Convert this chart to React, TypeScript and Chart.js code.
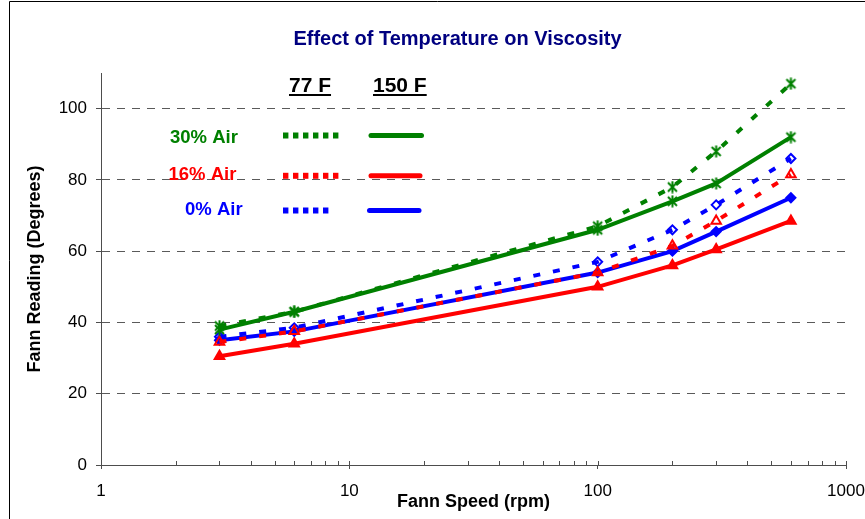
import React, { useEffect, useRef } from 'react';
import { Chart, registerables } from 'chart.js';

Chart.register(...registerables);

// ---- data ----
const RPM = [3, 6, 100, 200, 300, 600];
const AIR30_77F = [39, 43, 67, 78, 88, 107];
const AIR30_150F = [38, 43, 66, 74, 79, 92];
const AIR16_77F = [34.5, 37.5, 54, 61.5, 68.5, 81.5];
const AIR16_150F = [30.5, 34, 50, 56, 60.5, 68.5];
const AIR0_77F = [36, 38.5, 57, 66, 73, 86];
const AIR0_150F = [35, 37.5, 54, 60, 65.5, 75];

const X_MAJOR_TICKS = [1, 10, 100, 1000];
const X_MINOR_MULTIPLIERS = [2, 3, 4, 5, 6, 7, 8, 9];
const Y_TICKS = [0, 20, 40, 60, 80, 100];

const TITLE = 'Effect of Temperature on Viscosity';
const X_TITLE = 'Fann Speed (rpm)';
const Y_TITLE = 'Fann Reading (Degrees)';
const HEADER_77 = '77 F';
const HEADER_150 = '150 F';
const LABEL_30 = '30% Air';
const LABEL_16 = '16% Air';
const LABEL_0 = '0% Air';

// ---- styles ----
const GREEN = '#008000';
const RED = '#FF0000';
const BLUE = '#0000FF';
const NAVY = '#000080';
const AXIS = '#4d4d4d';
const GRID = '#5a5a5a';
const FONT = "'Liberation Sans', Arial, Helvetica, sans-serif";
const CLEAR = 'rgba(0,0,0,0)';

const X_TICK_VALUES: number[] = (() => {
  const out: number[] = [];
  for (let i = 0; i < X_MAJOR_TICKS.length; i++) {
    out.push(X_MAJOR_TICKS[i]);
    if (i < X_MAJOR_TICKS.length - 1) {
      X_MINOR_MULTIPLIERS.forEach((m) => out.push(m * X_MAJOR_TICKS[i]));
    }
  }
  return out;
})();

const isMajor = (v: number) => X_MAJOR_TICKS.includes(v);

function makeStar(color: string): HTMLCanvasElement {
  const c = document.createElement('canvas');
  c.width = 13;
  c.height = 13;
  const g = c.getContext('2d')!;
  g.strokeStyle = color;
  g.lineWidth = 2;
  g.beginPath();
  g.moveTo(2, 2);
  g.lineTo(11, 11);
  g.moveTo(11, 2);
  g.lineTo(2, 11);
  g.moveTo(6.5, 0.5);
  g.lineTo(6.5, 12.5);
  g.stroke();
  return c;
}

const LEGEND_ROWS = [
  { label: LABEL_30, color: GREEN, textX: 170, textY: 143, lineY: 135.5, dotStart: 283, dotCount: 6, solidStart: 368.5, solidEnd: 424 },
  { label: LABEL_16, color: RED, textX: 168.5, textY: 180, lineY: 175.8, dotStart: 283, dotCount: 6, solidStart: 368.5, solidEnd: 422.5 },
  { label: LABEL_0, color: BLUE, textX: 185, textY: 215, lineY: 210.5, dotStart: 283, dotCount: 5, solidStart: 367, solidEnd: 421.5 },
];

const framePlugin = {
  id: 'frame',
  beforeDraw(chart: any) {
    const ctx = chart.ctx;
    ctx.save();
    ctx.fillStyle = '#ffffff';
    ctx.fillRect(0, 0, chart.width, chart.height);
    ctx.strokeStyle = '#000000';
    ctx.lineWidth = 1;
    ctx.beginPath();
    ctx.moveTo(9.5, chart.height);
    ctx.lineTo(9.5, 1.5);
    ctx.lineTo(chart.width, 1.5);
    ctx.stroke();
    ctx.restore();
  },
};

const overlayPlugin = {
  id: 'overlay',
  afterDraw(chart: any) {
    const ctx = chart.ctx;
    const xs = chart.scales.x;
    const yPix = chart.chartArea.bottom;
    ctx.save();
    // inward minor/major tick marks on the x axis
    ctx.strokeStyle = AXIS;
    ctx.lineWidth = 1;
    ctx.beginPath();
    xs.ticks.forEach((t: any) => {
      const px = Math.round(xs.getPixelForValue(t.value)) + 0.5;
      ctx.moveTo(px, yPix);
      ctx.lineTo(px, yPix - 4);
    });
    ctx.stroke();

    // chart title
    ctx.fillStyle = NAVY;
    ctx.font = `bold 20px ${FONT}`;
    ctx.textAlign = 'center';
    ctx.textBaseline = 'middle';
    ctx.fillText(TITLE, 457.5, 39);

    // legend headers
    ctx.fillStyle = '#000000';
    ctx.font = `bold 21px ${FONT}`;
    ctx.textAlign = 'left';
    ctx.textBaseline = 'alphabetic';
    [[HEADER_77, 289], [HEADER_150, 373]].forEach(([txt, x]) => {
      const w = ctx.measureText(txt as string).width;
      ctx.fillText(txt as string, x as number, 91.5);
      ctx.fillRect(x as number, 94, w, 2);
    });

    // legend rows
    ctx.font = `bold 18.5px ${FONT}`;
    LEGEND_ROWS.forEach((r) => {
      ctx.fillStyle = r.color;
      ctx.fillText(r.label, r.textX, r.textY);
      // square dotted sample (77 F)
      for (let i = 0; i < r.dotCount; i++) {
        ctx.fillRect(r.dotStart + i * 10, r.lineY - 3, 5.4, 6);
      }
      // solid sample (150 F)
      ctx.strokeStyle = r.color;
      ctx.lineWidth = 5;
      ctx.lineCap = 'round';
      ctx.beginPath();
      ctx.moveTo(r.solidStart + 2.5, r.lineY);
      ctx.lineTo(r.solidEnd - 2.5, r.lineY);
      ctx.stroke();
    });
    ctx.restore();
  },
};

export default function App() {
  const ref = useRef<HTMLCanvasElement>(null);

  useEffect(() => {
    if (!ref.current) return;
    const star = makeStar(GREEN);
    const pts = (ys: number[]) => RPM.map((x, i) => ({ x, y: ys[i] }));
    const DASH = [7, 13];

    const chart = new Chart(ref.current, {
      type: 'line',
      data: {
        datasets: [
          {
            label: `${LABEL_30} ${HEADER_77}`,
            data: pts(AIR30_77F),
            borderColor: GREEN,
            backgroundColor: GREEN,
            borderWidth: 4,
            borderDash: DASH,
            pointStyle: star,
            pointRadius: 6,
            fill: false,
          },
          {
            label: `${LABEL_30} ${HEADER_150}`,
            data: pts(AIR30_150F),
            borderColor: GREEN,
            backgroundColor: GREEN,
            borderWidth: 4,
            pointStyle: star,
            pointRadius: 6,
            fill: false,
          },
          {
            label: `${LABEL_16} ${HEADER_77}`,
            data: pts(AIR16_77F),
            borderColor: RED,
            backgroundColor: RED,
            borderWidth: 4,
            borderDash: DASH,
            pointStyle: 'triangle',
            pointRadius: 5.5,
            pointBorderWidth: 2,
            pointBorderColor: RED,
            pointBackgroundColor: CLEAR,
            fill: false,
          },
          {
            label: `${LABEL_0} ${HEADER_77}`,
            data: pts(AIR0_77F),
            borderColor: BLUE,
            backgroundColor: BLUE,
            borderWidth: 4,
            borderDash: DASH,
            pointStyle: 'rectRot',
            pointRadius: 4.5,
            pointBorderWidth: 2,
            pointBorderColor: BLUE,
            pointBackgroundColor: CLEAR,
            fill: false,
          },
          {
            label: `${LABEL_0} ${HEADER_150}`,
            data: pts(AIR0_150F),
            borderColor: BLUE,
            backgroundColor: BLUE,
            borderWidth: 4,
            pointStyle: 'rectRot',
            pointRadius: 4.5,
            pointBorderWidth: 2,
            pointBorderColor: BLUE,
            pointBackgroundColor: BLUE,
            fill: false,
          },
          {
            label: `${LABEL_16} ${HEADER_150}`,
            data: pts(AIR16_150F),
            borderColor: RED,
            backgroundColor: RED,
            borderWidth: 4,
            pointStyle: 'triangle',
            pointRadius: 5.5,
            pointBorderWidth: 2,
            pointBorderColor: RED,
            pointBackgroundColor: RED,
            fill: false,
          },
        ],
      },
      options: {
        responsive: false,
        animation: false,
        events: [],
        layout: { padding: { left: 0, top: 73, right: 19, bottom: 0 } },
        plugins: {
          legend: { display: false },
          tooltip: { enabled: false },
          title: { display: false },
        },
        scales: {
          x: {
            type: 'logarithmic',
            position: 'bottom',
            min: 1,
            max: 1000,
            afterBuildTicks: (s: any) => {
              s.ticks = X_TICK_VALUES.map((v) => ({ value: v, major: isMajor(v) }));
            },
            afterFit: (s: any) => {
              s.height = 54;
              s.paddingLeft = 0;
              s.paddingRight = 0;
            },
            grid: {
              drawOnChartArea: false,
              drawTicks: true,
              tickLength: 4,
              tickWidth: 1,
              tickColor: (c: any) => (isMajor(c.tick?.value) ? AXIS : CLEAR),
            },
            border: { display: true, color: AXIS, width: 1 },
            ticks: {
              autoSkip: false,
              maxRotation: 0,
              minRotation: 0,
              padding: 12,
              color: '#000000',
              font: { family: FONT, size: 17 },
              callback: (v: any) => (isMajor(Number(v)) ? String(v) : ''),
            },
            title: {
              display: true,
              text: X_TITLE,
              color: '#000000',
              font: { family: FONT, size: 18, weight: 'bold' },
              padding: { top: 0, bottom: 6 },
            },
          },
          y: {
            type: 'linear',
            min: 0,
            max: 110,
            afterBuildTicks: (s: any) => {
              s.ticks = Y_TICKS.map((v) => ({ value: v }));
            },
            afterFit: (s: any) => {
              s.width = 101;
              s.paddingTop = 0;
              s.paddingBottom = 0;
            },
            grid: {
              color: (c: any) => (c.tick && c.tick.value === 0 ? CLEAR : GRID),
              lineWidth: 1,
              drawTicks: true,
              tickLength: 5,
              tickColor: AXIS,
            },
            border: { display: true, color: AXIS, width: 1, dash: [8, 7] },
            ticks: {
              padding: 9,
              color: '#000000',
              font: { family: FONT, size: 17 },
            },
            title: {
              display: true,
              text: Y_TITLE,
              color: '#000000',
              font: { family: FONT, size: 18, weight: 'bold' },
              padding: { top: 24, bottom: 0 },
            },
          },
        },
      } as any,
      plugins: [framePlugin, overlayPlugin],
    });
    return () => chart.destroy();
  }, []);

  return (
    <div style={{ position: 'fixed', left: 0, top: 0, width: 865, height: 519, background: '#ffffff', overflow: 'hidden' }}>
      <canvas ref={ref} width={865} height={519} style={{ display: 'block', width: 865, height: 519 }} />
    </div>
  );
}
